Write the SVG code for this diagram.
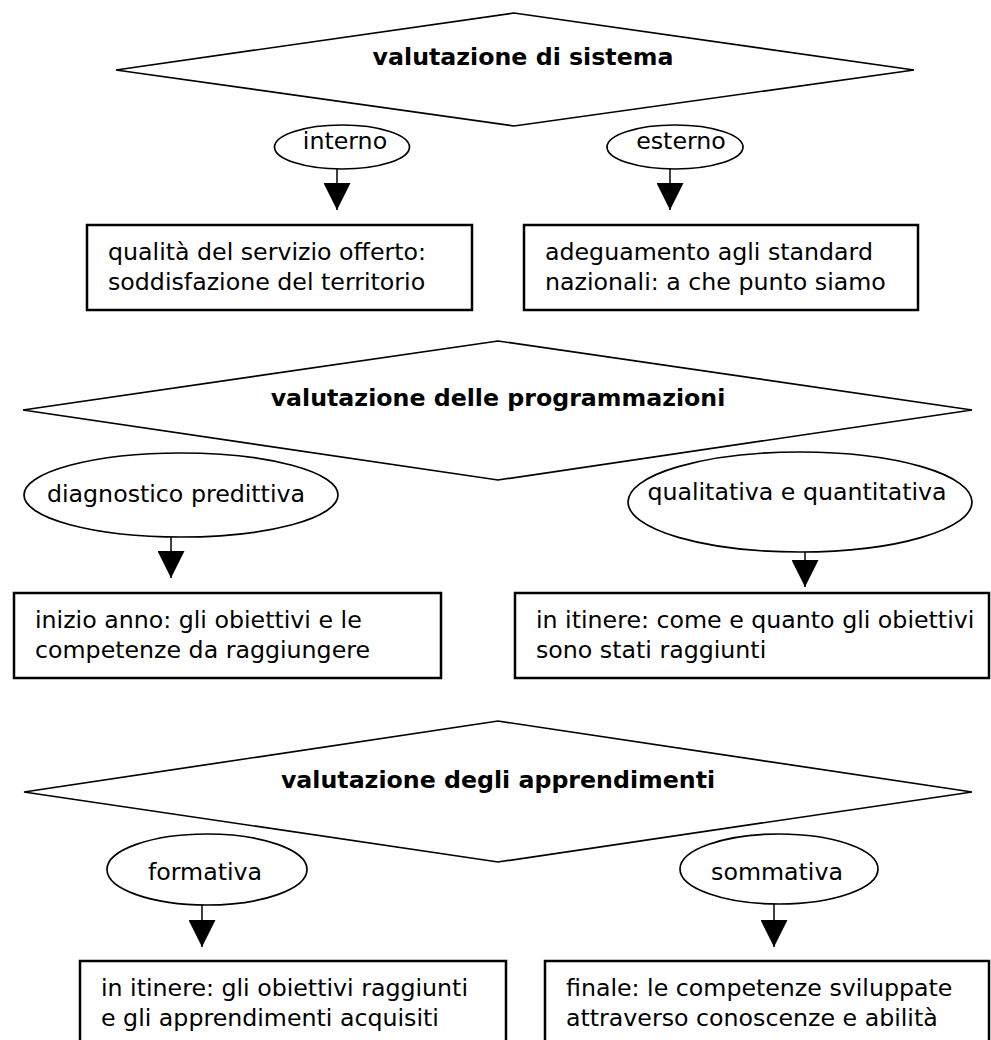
<svg xmlns="http://www.w3.org/2000/svg" width="991" height="1040" viewBox="0 0 991 1040">
<style>
.dia{fill:#fff;stroke:#000;stroke-width:1.7}
.ell{fill:#fff;stroke:#000;stroke-width:1.7}
.box{fill:#fff;stroke:#000;stroke-width:2.5}
.t{font-family:"DejaVu Sans","Verdana",sans-serif;font-size:23.7px;fill:#000}
.b{font-weight:bold;text-anchor:middle}
.m{text-anchor:middle}
.ln{stroke:#000;stroke-width:1.5;fill:none}
</style>
<defs>
<marker id="ah" viewBox="0 0 27 27" refX="27" refY="13.5" markerWidth="27" markerHeight="27" markerUnits="userSpaceOnUse" orient="auto">
<path d="M0,0 L27,13.5 L0,27 Z" fill="#000"/>
</marker>
</defs>
<rect width="991" height="1040" fill="#fff"/>
<g id="d1"><polygon class="dia" points="116,70 514,13 914,70 514,126"/><text class="t b" x="523" y="65">valutazione di sistema</text></g>
<g id="e1"><ellipse class="ell" cx="342" cy="147" rx="67.5" ry="22"/><text class="t m" x="345" y="149">interno</text></g>
<g id="e2"><ellipse class="ell" cx="675" cy="147" rx="68" ry="22"/><text class="t m" x="681" y="149">esterno</text></g>
<g id="b1"><rect class="box" x="87" y="225" width="385" height="85"/><text class="t" x="108" y="260">qualità del servizio offerto:</text><text class="t" x="108" y="290">soddisfazione del territorio</text></g>
<g id="b2"><rect class="box" x="524" y="225" width="394" height="85"/><text class="t" x="545" y="260">adeguamento agli standard</text><text class="t" x="545" y="290">nazionali: a che punto siamo</text></g>
<g id="d2"><polygon class="dia" points="23,410 498,341 972,410 498,480"/><text class="t b" x="498" y="406">valutazione delle programmazioni</text></g>
<g id="e3"><ellipse class="ell" cx="181" cy="495" rx="157" ry="42"/><text class="t m" x="176" y="502">diagnostico predittiva</text></g>
<g id="e4"><ellipse class="ell" cx="800" cy="502" rx="172" ry="50"/><text class="t m" x="797" y="500">qualitativa e quantitativa</text></g>
<g id="b3"><rect class="box" x="14" y="593" width="427" height="85"/><text class="t" x="35" y="628">inizio anno: gli obiettivi e le</text><text class="t" x="35" y="658">competenze da raggiungere</text></g>
<g id="b4"><rect class="box" x="515" y="593" width="474" height="85"/><text class="t" x="536" y="628">in itinere: come e quanto gli obiettivi</text><text class="t" x="536" y="658">sono stati raggiunti</text></g>
<g id="d3"><polygon class="dia" points="24,792 498,721 972,792 498,862"/><text class="t b" x="498" y="788">valutazione degli apprendimenti</text></g>
<g id="e5"><ellipse class="ell" cx="207" cy="869.5" rx="100" ry="35.5"/><text class="t m" x="205" y="880">formativa</text></g>
<g id="e6"><ellipse class="ell" cx="779" cy="869" rx="99" ry="35"/><text class="t m" x="777" y="880">sommativa</text></g>
<g id="b5"><rect class="box" x="80" y="961" width="426" height="100"/><text class="t" x="101" y="996">in itinere: gli obiettivi raggiunti</text><text class="t" x="101" y="1026">e gli apprendimenti acquisiti</text></g>
<g id="b6"><rect class="box" x="545" y="961" width="444" height="100"/><text class="t" x="566" y="996">finale: le competenze sviluppate</text><text class="t" x="566" y="1026">attraverso conoscenze e abilità</text></g>
<g id="connectors">
<line class="ln" x1="337" y1="169" x2="337" y2="210" marker-end="url(#ah)"/>
<line class="ln" x1="670" y1="169" x2="670" y2="210" marker-end="url(#ah)"/>
<line class="ln" x1="171" y1="537" x2="171" y2="578" marker-end="url(#ah)"/>
<line class="ln" x1="805" y1="552" x2="805" y2="587" marker-end="url(#ah)"/>
<line class="ln" x1="202" y1="905" x2="202" y2="947" marker-end="url(#ah)"/>
<line class="ln" x1="774" y1="904" x2="774" y2="947" marker-end="url(#ah)"/>
</g>
</svg>
